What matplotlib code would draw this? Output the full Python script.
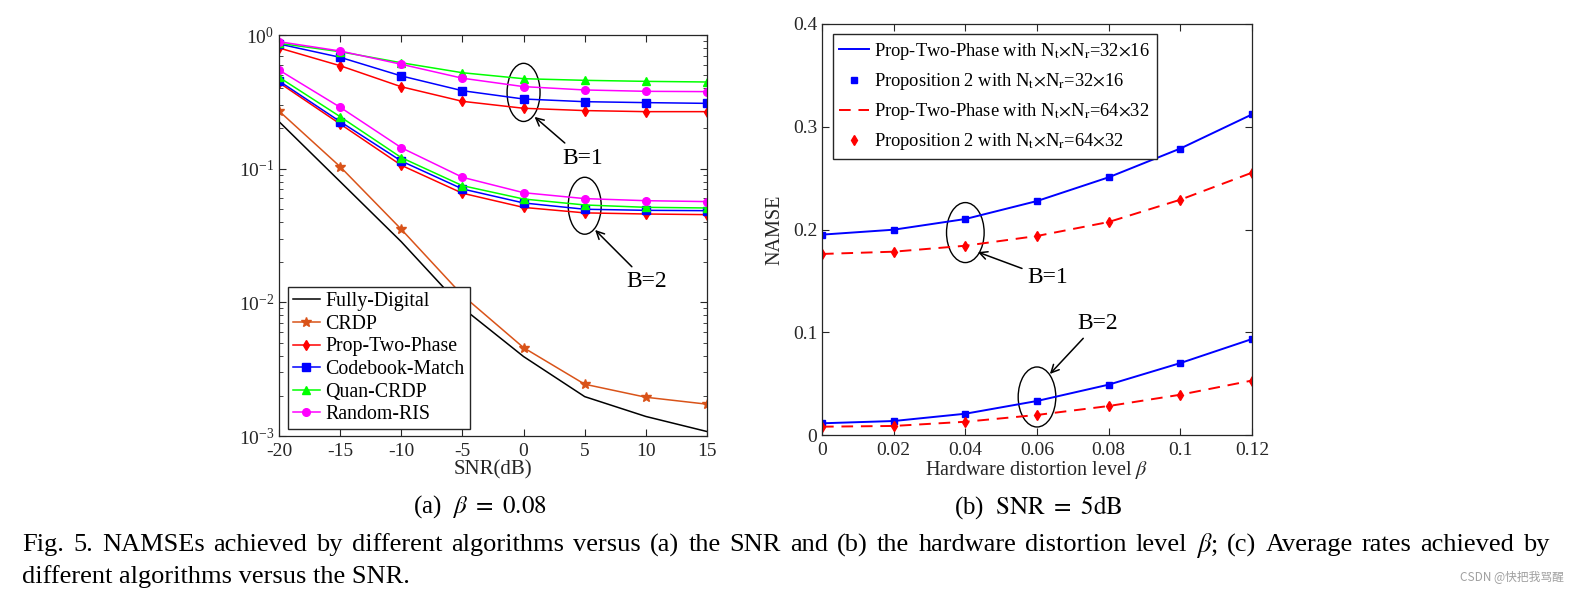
import numpy as np
import matplotlib
matplotlib.use("Agg")
import matplotlib.pyplot as plt
from matplotlib.patches import Ellipse
from matplotlib.ticker import LogLocator, LogFormatterMathtext, NullFormatter

plt.rcParams['font.family'] = ['Liberation Serif', 'DejaVu Serif']
plt.rcParams['mathtext.fontset'] = 'stix'
plt.rcParams['axes.unicode_minus'] = False

# (a) NAMSE vs SNR, beta = 0.08
snr = [-20, -15, -10, -5, 0, 5, 10, 15]
fully_digital = [0.225, 0.080, 0.0284, 0.0091, 0.00393, 0.00197, 0.0014, 0.00108]
crdp = [0.270, 0.1035, 0.0352, 0.0113, 0.00458, 0.00244, 0.00195, 0.00173]
# B=1
prop_b1 = [0.80, 0.589, 0.41, 0.319, 0.283, 0.272, 0.267, 0.267]
codebook_b1 = [0.857, 0.681, 0.494, 0.383, 0.332, 0.317, 0.312, 0.308]
quan_b1 = [0.867, 0.75, 0.62, 0.522, 0.471, 0.458, 0.45, 0.445]
random_b1 = [0.891, 0.759, 0.604, 0.475, 0.411, 0.388, 0.379, 0.377]
# B=2
prop_b2 = [0.44, 0.216, 0.106, 0.0655, 0.0513, 0.0467, 0.0458, 0.0453]
codebook_b2 = [0.453, 0.225, 0.114, 0.0705, 0.0554, 0.0497, 0.0488, 0.0485]
quan_b2 = [0.483, 0.245, 0.121, 0.0746, 0.0593, 0.0535, 0.0514, 0.0508]
random_b2 = [0.547, 0.288, 0.1435, 0.0862, 0.0661, 0.0597, 0.0576, 0.0567]

# (b) NAMSE vs hardware distortion level, SNR = 5dB
beta = [0, 0.02, 0.04, 0.06, 0.08, 0.10, 0.12]
beta_labels = ['0', '0.02', '0.04', '0.06', '0.08', '0.1', '0.12']
small_b1 = [0.195, 0.1998, 0.2102, 0.2277, 0.2508, 0.2788, 0.312]
large_b1 = [0.1762, 0.1784, 0.1842, 0.1937, 0.2073, 0.2290, 0.2553]
small_b2 = [0.0114, 0.0136, 0.0207, 0.0331, 0.049, 0.0700, 0.0934]
large_b2 = [0.0081, 0.0088, 0.0129, 0.0195, 0.0282, 0.0392, 0.053]

W, H = 1579, 594
fig = plt.figure(figsize=(W / 100, H / 100), dpi=100)
ax1 = fig.add_axes([279 / W, 1 - 436 / H, 428 / W, 401 / H])
ax2 = fig.add_axes([822 / W, 1 - 435 / H, 430 / W, 411 / H])

axcol = '#262626'
orange = '#D95319'
lw = 1.1
ms = 5.5

ax1.plot(snr, fully_digital, color='k', lw=lw, label='Fully-Digital')
ax1.plot(snr, crdp, color=orange, lw=lw, marker='*', ms=7, label='CRDP')
series = [
    (prop_b1, prop_b2, 'red', 'd', 'Prop-Two-Phase'),
    (codebook_b1, codebook_b2, 'blue', 's', 'Codebook-Match'),
    (quan_b1, quan_b2, '#00FF00', '^', 'Quan-CRDP'),
    (random_b1, random_b2, 'magenta', 'o', 'Random-RIS'),
]
for b1, b2, c, m, name in series:
    ax1.plot(snr, b1, color=c, lw=lw, marker=m, ms=ms, label=name)
    ax1.plot(snr, b2, color=c, lw=lw, marker=m, ms=ms)

ax1.set_yscale('log')
ax1.set_xlim(-20, 15)
ax1.set_ylim(1e-3, 1)
ax1.set_xticks(snr)
ax1.yaxis.set_major_locator(LogLocator(base=10, numticks=10))
ax1.yaxis.set_major_formatter(LogFormatterMathtext())
ax1.yaxis.set_minor_locator(LogLocator(base=10, subs=np.arange(2, 10), numticks=20))
ax1.yaxis.set_minor_formatter(NullFormatter())
ax1.set_xlabel('SNR(dB)', fontsize=15, color=axcol, labelpad=0)
ax1.legend(loc='lower left', bbox_to_anchor=(0.02, 0.017), fontsize=14.3,
           fancybox=False, edgecolor=axcol, framealpha=1, handlelength=1.4,
           borderpad=0.25, labelspacing=0.18, handletextpad=0.25, borderaxespad=0)

ax2.plot(beta, small_b1, color='blue', lw=1.4,
         label=r'Prop-Two-Phase with N$_\mathrm{t}$$\times$N$_\mathrm{r}$=32$\times$16')
ax2.plot(beta, small_b1, ls='none', color='blue', marker='s', ms=4.5,
         label=r'Proposition 2 with N$_\mathrm{t}$$\times$N$_\mathrm{r}$=32$\times$16')
ax2.plot(beta, large_b1, color='red', lw=1.4, ls=(0, (6, 4)),
         label=r'Prop-Two-Phase with N$_\mathrm{t}$$\times$N$_\mathrm{r}$=64$\times$32')
ax2.plot(beta, large_b1, ls='none', color='red', marker='d', ms=5,
         label=r'Proposition 2 with N$_\mathrm{t}$$\times$N$_\mathrm{r}$=64$\times$32')
ax2.plot(beta, small_b2, color='blue', lw=1.4)
ax2.plot(beta, small_b2, ls='none', color='blue', marker='s', ms=4.5)
ax2.plot(beta, large_b2, color='red', lw=1.4, ls=(0, (6, 4)))
ax2.plot(beta, large_b2, ls='none', color='red', marker='d', ms=5)

ax2.set_xlim(0, 0.12)
ax2.set_ylim(0, 0.4)
ax2.set_xticks(beta)
ax2.set_xticklabels(beta_labels)
ax2.set_yticks([0, 0.1, 0.2, 0.3, 0.4])
ax2.set_yticklabels(['0', '0.1', '0.2', '0.3', '0.4'])
ax2.set_xlabel(r'Hardware distortion level $\beta$', fontsize=14.5, color=axcol, labelpad=0)
ax2.set_ylabel('NAMSE', fontsize=14.5, color=axcol, labelpad=6)
ax2.legend(loc='upper left', bbox_to_anchor=(0.025, 0.975), fontsize=13.3,
           fancybox=False, edgecolor=axcol, framealpha=1, handlelength=1.6,
           borderpad=0.35, labelspacing=0.5, handletextpad=0.3, borderaxespad=0)

for ax in (ax1, ax2):
    ax.tick_params(which='both', direction='in', top=True, right=True,
                   colors=axcol, labelsize=14)
    ax.tick_params(which='major', length=5)
    ax.tick_params(which='minor', length=3)
    ax.tick_params(axis='x', pad=5)
    for s in ax.spines.values():
        s.set_color(axcol)
        s.set_linewidth(0.9)


def ring(ax, x, y, w, h):
    # ellipse sized in axes fraction, centred on a data point
    cx, cy = ax.transAxes.inverted().transform(ax.transData.transform((x, y)))
    ax.add_patch(Ellipse((cx, cy), w, h, transform=ax.transAxes,
                         fill=False, ec='k', lw=1))


arrow = dict(arrowstyle='->', color='k', lw=1.1, mutation_scale=14, shrinkA=2, shrinkB=0)

ring(ax1, 0, 0.372, 0.077, 0.145)
ax1.annotate('B=1', xy=(0.9, 0.244), xytext=(4.8, 0.12), fontsize=17,
             ha='center', va='center', arrowprops=arrow)
ring(ax1, 5, 0.0528, 0.077, 0.142)
ax1.annotate('B=2', xy=(5.85, 0.0348), xytext=(10.1, 0.0142), fontsize=17,
             ha='center', va='center', arrowprops=arrow)

ring(ax2, 0.04, 0.197, 0.0875, 0.146)
ax2.annotate('B=1', xy=(0.0435, 0.178), xytext=(0.063, 0.1528), fontsize=17,
             ha='center', va='center', arrowprops=arrow)
ring(ax2, 0.06, 0.037, 0.0875, 0.146)
ax2.annotate('B=2', xy=(0.0636, 0.0594), xytext=(0.0769, 0.109), fontsize=17,
             ha='center', va='center', arrowprops=arrow)

fig.text(480 / W, 1 - 507 / H, r'(a)  $\beta\ =\ 0.08$', fontsize=18, ha='center', va='center')
fig.text(1038 / W, 1 - 507 / H, r'(b)  $\mathrm{SNR}\ =\ 5\mathrm{dB}$', fontsize=18,
         ha='center', va='center')

# justified first caption line
line1 = (r'Fig. 5. NAMSEs achieved by different algorithms versus (a) the SNR and (b) the '
         r'hardware distortion level $\beta$; (c) Average rates achieved by')
cap_size = 19
words = [fig.text(0, 1 - 545 / H, w, fontsize=cap_size, ha='left', va='center')
         for w in line1.split(' ')]
renderer = fig.canvas.get_renderer()
widths = [t.get_window_extent(renderer).width for t in words]
gap = (1550 - 22 - sum(widths)) / (len(words) - 1)
xpos = 22
for t, wd in zip(words, widths):
    t.set_x(xpos / W)
    xpos += wd + gap

fig.text(22 / W, 1 - 577 / H, 'different algorithms versus the SNR.',
         fontsize=cap_size, ha='left', va='center')
fig.text(1564 / W, 1 - 577 / H, 'CSDN @快把我骂醒', fontsize=8.5, color='#a0a0a0',
         ha='right', va='center', family=['Noto Sans CJK SC', 'DejaVu Sans'])

fig.savefig('out.png', dpi=100)
